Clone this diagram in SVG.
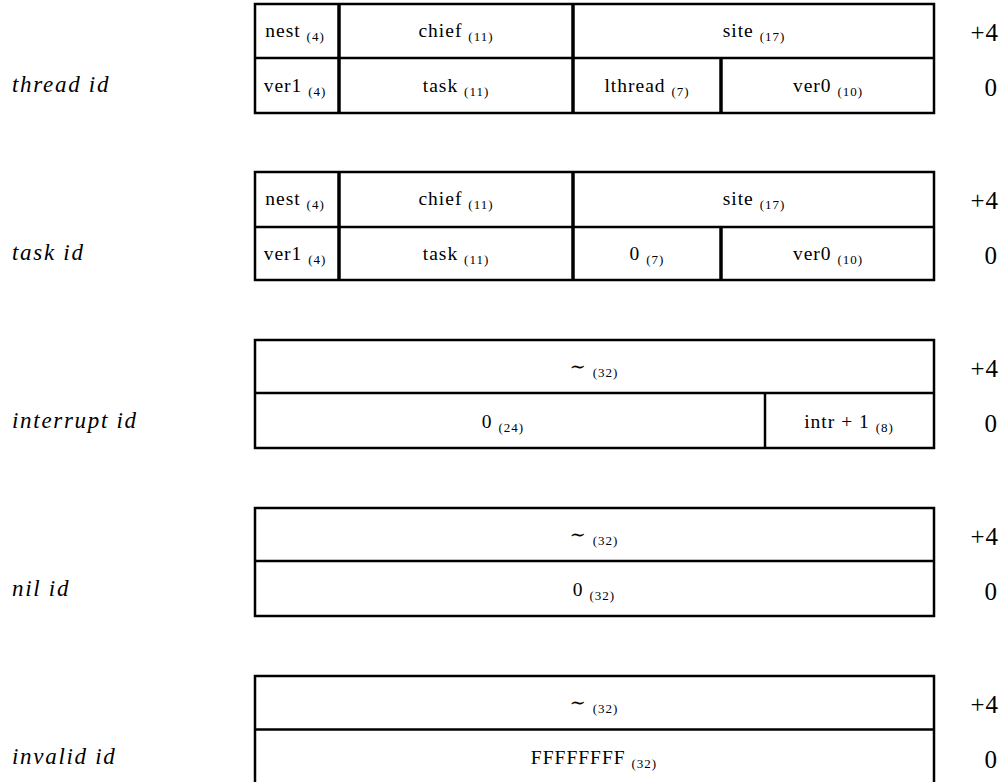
<svg xmlns="http://www.w3.org/2000/svg" width="1003" height="782" viewBox="0 0 1003 782">
<style>
.b{fill:none;stroke:#000;stroke-width:2.5}
.t{stroke:#000;stroke-width:3.5}
.n{stroke:#000;stroke-width:2.5}
.c{font-family:"Liberation Serif","DejaVu Serif",serif;font-size:19.5px;letter-spacing:1px;text-anchor:middle;fill:#000}
.s{font-size:13px;letter-spacing:1px}
.lab{font-family:"Liberation Serif","DejaVu Serif",serif;font-size:23px;font-style:italic;letter-spacing:1.7px;fill:#000}
.off{font-family:"Liberation Serif","DejaVu Serif",serif;font-size:25px;letter-spacing:1px;text-anchor:end;fill:#000}
</style>
<rect width="1003" height="782" fill="#fff"/>

<g id="thread-id">
<text class="lab" x="12" y="92">thread id</text>
<rect class="b" x="255" y="4" width="679" height="109"/>
<line class="n" x1="255" y1="58" x2="934" y2="58"/>
<line class="t" x1="339" y1="4" x2="339" y2="113"/>
<line class="t" x1="573" y1="4" x2="573" y2="113"/>
<line class="t" x1="721" y1="58" x2="721" y2="113"/>
<text class="c" x="295" y="37">nest <tspan class="s" dy="4">(4)</tspan></text>
<text class="c" x="456" y="37">chief <tspan class="s" dy="4">(11)</tspan></text>
<text class="c" x="754" y="37">site <tspan class="s" dy="4">(17)</tspan></text>
<text class="c" x="295" y="92">ver1 <tspan class="s" dy="4">(4)</tspan></text>
<text class="c" x="456" y="92">task <tspan class="s" dy="4">(11)</tspan></text>
<text class="c" x="647" y="92">lthread <tspan class="s" dy="4">(7)</tspan></text>
<text class="c" x="828" y="92">ver0 <tspan class="s" dy="4">(10)</tspan></text>
<text class="off" x="999" y="41">+4</text>
<text class="off" x="998" y="96">0</text>
</g>

<g id="task-id">
<text class="lab" x="12" y="260">task id</text>
<rect class="b" x="255" y="172" width="679" height="108"/>
<line class="n" x1="255" y1="227" x2="934" y2="227"/>
<line class="t" x1="339" y1="172" x2="339" y2="280"/>
<line class="t" x1="573" y1="172" x2="573" y2="280"/>
<line class="t" x1="721" y1="227" x2="721" y2="280"/>
<text class="c" x="295" y="205">nest <tspan class="s" dy="4">(4)</tspan></text>
<text class="c" x="456" y="205">chief <tspan class="s" dy="4">(11)</tspan></text>
<text class="c" x="754" y="205">site <tspan class="s" dy="4">(17)</tspan></text>
<text class="c" x="295" y="260">ver1 <tspan class="s" dy="4">(4)</tspan></text>
<text class="c" x="456" y="260">task <tspan class="s" dy="4">(11)</tspan></text>
<text class="c" x="647" y="260">0 <tspan class="s" dy="4">(7)</tspan></text>
<text class="c" x="828" y="260">ver0 <tspan class="s" dy="4">(10)</tspan></text>
<text class="off" x="999" y="209">+4</text>
<text class="off" x="998" y="264">0</text>
</g>

<g id="interrupt-id">
<text class="lab" x="12" y="428">interrupt id</text>
<rect class="b" x="255" y="340" width="679" height="108"/>
<line class="n" x1="255" y1="393" x2="934" y2="393"/>
<line class="n" x1="765" y1="393" x2="765" y2="448"/>
<text class="c" x="594" y="373">∼ <tspan class="s" dy="4">(32)</tspan></text>
<text class="c" x="503" y="428">0 <tspan class="s" dy="4">(24)</tspan></text>
<text class="c" x="849" y="428">intr + 1 <tspan class="s" dy="4">(8)</tspan></text>
<text class="off" x="999" y="377">+4</text>
<text class="off" x="998" y="432">0</text>
</g>

<g id="nil-id">
<text class="lab" x="12" y="596">nil id</text>
<rect class="b" x="255" y="508" width="679" height="108"/>
<line class="n" x1="255" y1="561" x2="934" y2="561"/>
<text class="c" x="594" y="541">∼ <tspan class="s" dy="4">(32)</tspan></text>
<text class="c" x="594" y="596">0 <tspan class="s" dy="4">(32)</tspan></text>
<text class="off" x="999" y="545">+4</text>
<text class="off" x="998" y="600">0</text>
</g>

<g id="invalid-id">
<text class="lab" x="12" y="764">invalid id</text>
<rect class="b" x="255" y="676" width="679" height="110"/>
<line class="n" x1="255" y1="729.5" x2="934" y2="729.5" stroke-width="3.5"/>
<text class="c" x="594" y="709">∼ <tspan class="s" dy="4">(32)</tspan></text>
<text class="c" x="594" y="764">FFFFFFFF <tspan class="s" dy="4">(32)</tspan></text>
<text class="off" x="999" y="713">+4</text>
<text class="off" x="998" y="768">0</text>
</g>
</svg>
